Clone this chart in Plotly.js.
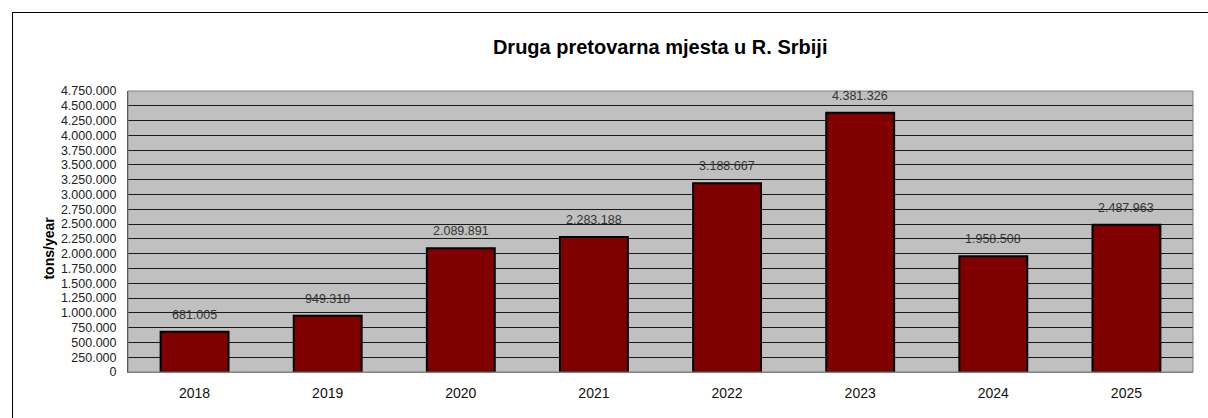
<!DOCTYPE html>
<html>
<head>
<meta charset="utf-8">
<script src="https://cdn.plot.ly/plotly-3.0.1.min.js"></script>
<style>
html,body{margin:0;padding:0;background:#fff;}
#wrap{position:relative;width:1208px;height:418px;}
#chart{width:1208px;height:418px;}
#frame{position:absolute;left:12px;top:12px;width:1200px;height:420px;border:1px solid #000;pointer-events:none;}
</style>
</head>
<body>
<div id="wrap"><div id="chart"></div><div id="frame"></div></div>
<script>
const categories = ['2018','2019','2020','2021','2022','2023','2024','2025'];
const values = [681005, 949318, 2089891, 2283188, 3188667, 4381326, 1958508, 2487963];
const labels = ['681.005','949.318','2.089.891','2.283.188','3.188.667','4.381.326','1.958.508','2.487.963'];

const FONT = 'Liberation Sans, Arial, sans-serif';

const trace = {
  type: 'bar',
  x: categories,
  y: values,
  marker: {color: '#800000', line: {color: '#000000', width: 2}},
  hoverinfo: 'x+y'
};

const annotations = categories.map((c, i) => ({
  x: i, y: values[i], xref: 'x', yref: 'y',
  text: labels[i], showarrow: false, yshift: 17,
  font: {family: FONT, size: 12.5, color: '#333'}
}));
annotations.push({
  xref: 'paper', yref: 'paper', x: -0.074, y: 0.44, xanchor: 'center', yanchor: 'middle',
  text: '<b>tons/year</b>', textangle: -90, showarrow: false,
  font: {family: FONT, size: 14, color: '#000'}
});

const layout = {
  width: 1208, height: 418,
  margin: {l: 128, r: 15, t: 91, b: 46},
  paper_bgcolor: '#ffffff',
  plot_bgcolor: '#c0c0c0',
  separators: ',.',
  bargap: 0.49,
  showlegend: false,
  title: {
    text: '<b>Druga pretovarna mjesta u R. Srbiji</b>',
    x: 0.5465, xanchor: 'center', y: 0.888, yanchor: 'middle',
    font: {family: FONT, size: 20, color: '#000'}
  },
  xaxis: {
    type: 'category',
    range: [-0.5, categories.length - 0.5],
    autorange: false,
    showgrid: false,
    showline: true, linecolor: '#808080', linewidth: 1, mirror: false,
    ticks: '', ticklabelstandoff: 8,
    tickfont: {family: FONT, size: 14, color: '#111'}
  },
  yaxis: {
    range: [0, 4750000],
    autorange: false,
    dtick: 250000, tick0: 0,
    tickformat: ',d',
    showgrid: true, gridcolor: '#1a1a1a', gridwidth: 1,
    zeroline: false,
    showline: true, linecolor: '#333333', linewidth: 1,
    ticks: '', ticklabelstandoff: 8,
    tickfont: {family: FONT, size: 12.5, color: '#222'}
  },
  shapes: [
    {type: 'rect', xref: 'paper', yref: 'paper', x0: 0, x1: 1, y0: 0, y1: 1,
     line: {color: '#808080', width: 1}, fillcolor: 'rgba(0,0,0,0)', layer: 'above'}
  ],
  annotations: annotations
};

Plotly.newPlot('chart', [trace], layout, {displayModeBar: false, staticPlot: true});
</script>
</body>
</html>
